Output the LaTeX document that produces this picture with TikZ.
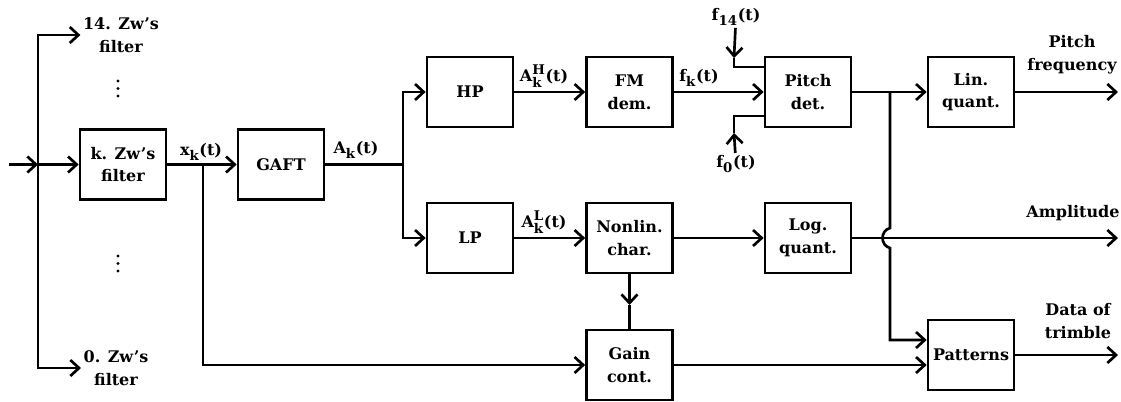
\documentclass[tikz,border=0pt]{standalone}
\usepackage{amsmath}
\usepackage{fontspec}
\setmainfont{DejaVu Serif}
\usetikzlibrary{arrows.meta}

% signal labels
\newcommand{\scr}{\fontsize{10}{10}\selectfont\bfseries}
\newcommand{\sig}[2]{$\textbf{#1}_{\text{\scr #2}}\textbf{(t)}$}
\newcommand{\sigh}[3]{$\textbf{#1}^{\text{\scr #3}}_{\text{\scr #2}}\textbf{(t)}$}

\begin{document}
\begin{tikzpicture}[x=0.75pt, y=-0.75pt, line width=2pt,
    >={Straight Barb[length=6.5pt,width=12pt]},
    font=\fontsize{12}{17}\selectfont\bfseries,
    blk/.style={draw, minimum width=64.5pt, minimum height=52.5pt,
                align=center, inner sep=2pt},
    txt/.style={align=center, inner sep=1pt},
    dot/.style={fill, line width=0pt}]

    \useasboundingbox (0,0) rectangle (1121,401);

    % blocks
    \node[blk] (kflt)   at (123,164.5) {k. Zw's\\filter};
    \node[blk] (gaft)   at (281,164.5) {GAFT};
    \node[blk] (hp)     at (470,92)    {HP};
    \node[blk] (lp)     at (470,238)   {LP};
    \node[blk] (fm)     at (629.5,92)  {FM\\dem.};
    \node[blk] (nonlin) at (629.5,238) {Nonlin.\\char.};
    \node[blk] (gain)   at (629.5,365) {Gain\\cont.};
    \node[blk] (pitch)  at (808,92)    {Pitch\\det.};
    \node[blk] (logq)   at (808,238)   {Log.\\quant.};
    \node[blk] (linq)   at (971,92)    {Lin.\\quant.};
    \node[blk] (patt)   at (971,355)   {Patterns};

    % texts
    \node[txt] (top)   at (121,35)  {14. Zw's\\filter};
    \node[txt] (bot)   at (116,368) {0. Zw's\\filter};
    \node[txt] (xk)    at (201,152) {\sig{x}{k}};
    \node[txt] (ak)    at (356,150) {\sig{A}{k}};
    \node[txt] (akh)   at (544,76)  {\sigh{A}{k}{H}};
    \node[txt] (akl)   at (544,222) {\sigh{A}{k}{L}};
    \node[txt] (fk)    at (699,78)  {\sig{f}{k}};
    \node[txt] (f14)   at (736,17)  {\sig{f}{14}};
    \node[txt] (f0)    at (736,164) {\sig{f}{0}};
    \node[txt] (pfreq) at (1072,55)  {Pitch\\frequency};
    \node[txt] (ampl)  at (1073,213) {Amplitude};
    \node[txt] (dtrim) at (1078,321) {Data of\\trimble};

    % vertical dots
    \foreach \y in {81,88.5,96,256,263.5,271}
      \fill[dot] (118,\y) circle (1.6);

    % points
    \coordinate (in)     at (9,164.5);
    \coordinate (split)  at (38,164.5);
    \coordinate (xbr)    at (203,164.5);
    \coordinate (abr)    at (403,164.5);
    \coordinate (pbr)    at (890,92);
    \coordinate (f14tip) at (734,58);
    \coordinate (f14in)  at (734,67);
    \coordinate (f0tip)  at (734,133);
    \coordinate (f0in)   at (734,116);
    \coordinate (nltip)  at (629.5,305);
    \coordinate (pout)   at (1118,92);
    \coordinate (aout)   at (1118,238);
    \coordinate (dout)   at (1118,355);
    \coordinate (pattin) at ([yshift=11.25pt]patt.west);

    % connections
    \draw[->] (in) -- (split);
    \draw[->] (split) -- (kflt);
    \draw[->] (split) |- (top.west);
    \draw[->] (split) |- (bot.west);
    \draw[->] (kflt) -- (gaft);
    \draw[->] (xbr) |- (gain);
    \draw (gaft) -- (abr);
    \draw[->] (abr) |- (hp);
    \draw[->] (abr) |- (lp);
    \draw[->] (hp) -- (fm);
    \draw[->] (lp) -- (nonlin);
    \draw[->] (fm) -- (pitch);
    \draw[->] (f14) -- (f14tip);
    \draw (f14tip) -- (f14in) -- (pitch.west |- f14in);
    \draw[->] (f0) -- (f0tip);
    \draw (f0tip) -- (f0in) -- (pitch.west |- f0in);
    \draw[->] (nonlin) -- (logq);
    \draw[->] (nonlin) -- (nltip);
    \draw (nltip) -- (gain);
    \draw[->] (pitch) -- (linq);
    \draw[->] (pbr) -- (890,228) .. controls (880,231) and (880,245) .. (890,248) |- (pattin);
    \draw[->] (gain) -- (patt.west |- gain);
    \draw[->] (linq) -- (pout);
    \draw[->] (logq) -- (aout);
    \draw[->] (patt) -- (dout);
\end{tikzpicture}
\end{document}
